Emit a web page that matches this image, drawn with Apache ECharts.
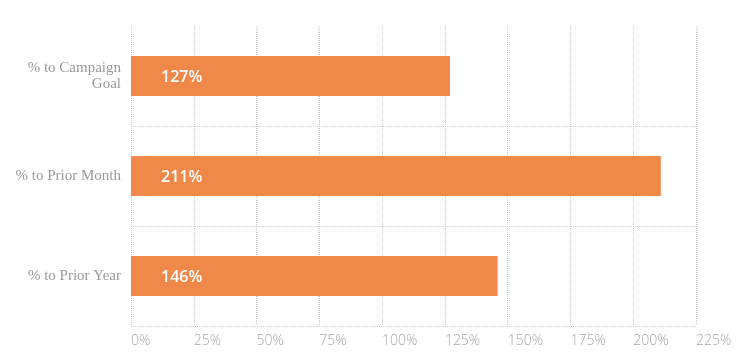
<!DOCTYPE html>
<html><head><meta charset="utf-8">
<script src="https://cdn.jsdelivr.net/npm/echarts@6/dist/echarts.min.js"></script>
<style>html,body{margin:0;padding:0;background:#fff}#c{width:742px;height:357px}</style>
</head><body><div id="c"></div>
<script>
const categories = ['% to Campaign\nGoal', '% to Prior Month', '% to Prior Year'];
const values = [127, 211, 146];
const xTicks = [0, 25, 50, 75, 100, 125, 150, 175, 200, 225];

const chart = echarts.init(document.getElementById('c'), null, {renderer: 'canvas'});
chart.setOption({
  animation: false,
  grid: {left: 131, right: 46, top: 26, bottom: 31, containLabel: false},
  xAxis: {
    type: 'value', min: xTicks[0], max: xTicks[xTicks.length - 1], interval: 25,
    axisLine: {show: false}, axisTick: {show: false},
    axisLabel: {
      formatter: v => v + '%', align: 'left', margin: 8,
      color: '#a6a6a6', fontFamily: 'Open Sans', fontWeight: 300, fontSize: 14
    },
    splitLine: {show: true, lineStyle: {type: 'dotted', color: '#c8c8c8', width: 1}}
  },
  yAxis: {
    type: 'category', data: categories, inverse: true,
    axisLine: {show: false}, axisTick: {show: false},
    axisLabel: {
      margin: 10, color: '#999999', fontFamily: 'Liberation Serif', fontSize: 15, lineHeight: 16, align: 'right'
    },
    splitLine: {show: true, showMinLine: false, lineStyle: {type: 'dotted', color: '#d0d0d0', width: 1}}
  },
  series: [{
    type: 'bar', data: values, barWidth: 40,
    itemStyle: {color: '#f0884a'},
    label: {
      show: true, position: 'insideLeft', offset: [25, 1],
      formatter: p => p.value + '%',
      color: '#ffffff', fontFamily: 'Open Sans', fontWeight: 600, fontSize: 16
    }
  }]
});
</script></body></html>
